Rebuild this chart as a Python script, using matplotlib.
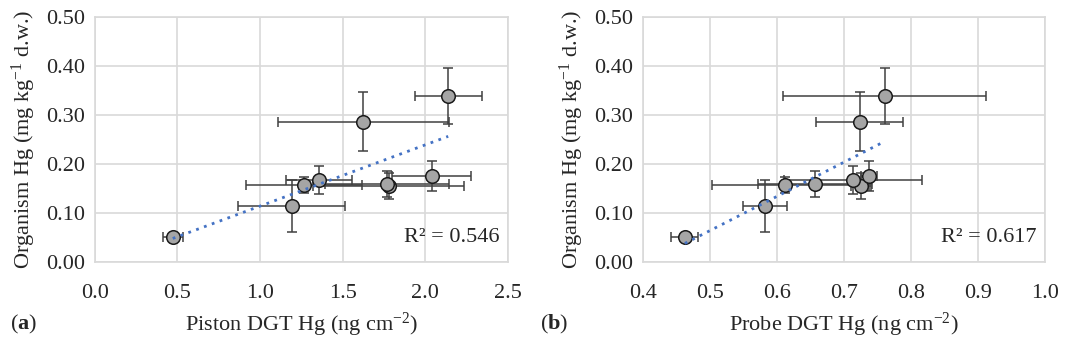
import numpy as np
import matplotlib
matplotlib.use("Agg")
import matplotlib.pyplot as plt

plt.rcParams["font.family"] = ["Liberation Serif", "DejaVu Serif"]
plt.rcParams["mathtext.fontset"] = "custom"
plt.rcParams["mathtext.rm"] = "Liberation Serif"
plt.rcParams["mathtext.it"] = "Liberation Serif:italic"
plt.rcParams["mathtext.bf"] = "Liberation Serif:bold"

# organism Hg (same for both panels)
organism_hg = [0.050, 0.113, 0.155, 0.157, 0.159, 0.167, 0.175, 0.286, 0.339]
organism_err = [0.005, 0.053, 0.027, 0.016, 0.027, 0.028, 0.031, 0.060, 0.057]

# (a) piston DGT
piston_hg = [0.472, 1.192, 1.778, 1.266, 1.766, 1.355, 2.039, 1.625, 2.139]
piston_err = [0.06, 0.324, 0.458, 0.35, 0.375, 0.2, 0.24, 0.516, 0.203]
piston_r2 = "0.546"

# (b) probe DGT
probe_hg = [0.463, 0.582, 0.726, 0.612, 0.657, 0.714, 0.737, 0.724, 0.761]
probe_err = [0.02, 0.033, 0.015, 0.108, 0.085, 0.103, 0.012, 0.065, 0.151]
probe_r2 = "0.617"

TXT = "#262626"
FS = 16

fig = plt.figure(figsize=(10.73, 3.44), dpi=100)
ax_a = fig.add_axes([0.0883, 0.2395, 0.385, 0.711])
ax_b = fig.add_axes([0.5989, 0.2395, 0.375, 0.711])

panels = [
    (ax_a, piston_hg, piston_err, piston_r2,
     "Piston DGT Hg (ng cm$^{-2}$)", (0, 2.5), np.arange(0, 2.51, 0.5)),
    (ax_b, probe_hg, probe_err, probe_r2,
     "Probe DGT Hg (ng cm$^{-2}$)", (0.4, 1.0), np.arange(0.4, 1.001, 0.1)),
]

for ax, xs, xerr, r2, xlabel, xlim, xticks in panels:
    xs = np.array(xs)
    ys = np.array(organism_hg)
    ax.errorbar(xs, ys, xerr=xerr, yerr=organism_err, fmt="none",
                ecolor="#404040", elinewidth=1.1, capsize=3.5, capthick=1.1, zorder=3)
    ax.scatter(xs, ys, s=95, facecolor="#a5a5a5", edgecolor="#1a1a1a",
               linewidth=1.1, zorder=4)
    # linear trendline
    k, b = np.polyfit(xs, ys, 1)
    xx = np.array([xs.min(), xs.max()])
    ax.plot(xx, k * xx + b, color="#4472c4", linestyle=(0, (1, 2)), linewidth=2, zorder=5)

    ax.set_xlim(*xlim)
    ax.set_ylim(0, 0.5)
    ax.set_xticks(xticks)
    ax.set_xticklabels(["%.1f" % v for v in xticks])
    ax.set_yticks(np.arange(0, 0.501, 0.1))
    ax.set_yticklabels(["%.2f" % v for v in np.arange(0, 0.501, 0.1)])
    ax.tick_params(length=0, labelsize=FS, colors=TXT)
    ax.tick_params(axis="x", pad=16)
    ax.tick_params(axis="y", pad=7)
    ax.grid(True, color="#d9d9d9", linewidth=1.2)
    ax.set_axisbelow(True)
    for s in ax.spines.values():
        s.set_color("#d9d9d9")
        s.set_linewidth(1.2)
    ax.set_ylabel("Organism Hg (mg kg$^{-1}$ d.w.)", fontsize=FS, color=TXT, labelpad=6)
    ax.set_xlabel(xlabel, fontsize=FS, color=TXT, labelpad=6)
    ax.text(0.98, 0.10, "R\u00b2 = " + r2, transform=ax.transAxes, ha="right", va="center",
            fontsize=FS, color=TXT)

fig.text(0.009, 0.058, r"($\mathbf{a}$)", fontsize=FS, color=TXT, va="center")
fig.text(0.503, 0.058, r"($\mathbf{b}$)", fontsize=FS, color=TXT, va="center")

fig.savefig("out.png", dpi=100)
